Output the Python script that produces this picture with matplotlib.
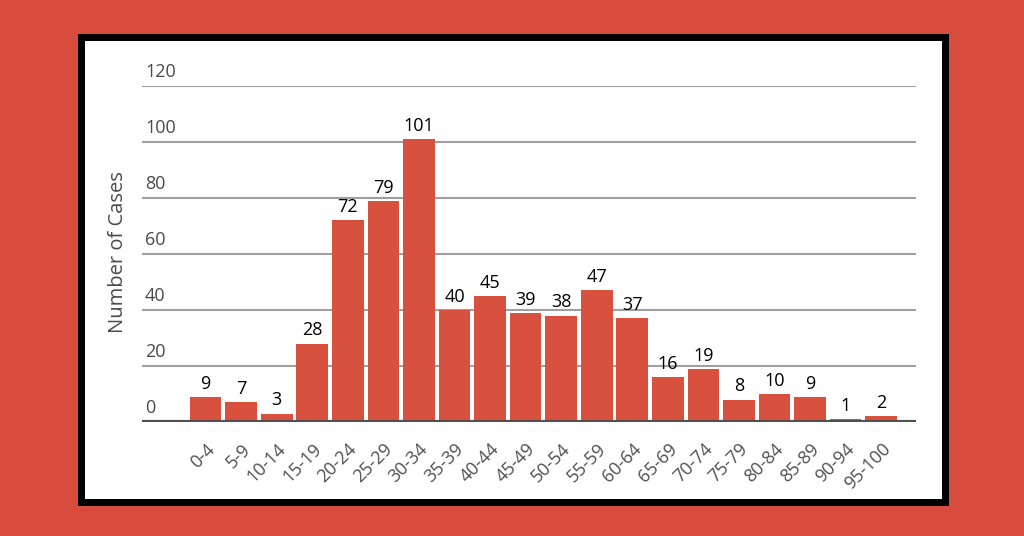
import matplotlib
matplotlib.use("Agg")
import matplotlib.pyplot as plt
from matplotlib.patches import Rectangle
import matplotlib.transforms as mtransforms

categories = ["0-4", "5-9", "10-14", "15-19", "20-24", "25-29", "30-34", "35-39",
              "40-44", "45-49", "50-54", "55-59", "60-64", "65-69", "70-74", "75-79",
              "80-84", "85-89", "90-94", "95-100"]
cases = [9, 7, 3, 28, 72, 79, 101, 40, 45, 39, 38, 47, 37, 16, 19, 8, 10, 9, 1, 2]
yticks = [0, 20, 40, 60, 80, 100, 120]

plt.rcParams['font.family'] = ['Open Sans', 'DejaVu Sans']

W, H = 1024, 536
fig = plt.figure(figsize=(W / 100, H / 100), dpi=100)
fig.patch.set_facecolor('#D84C3D')

# black frame + white panel
fig.patches.append(Rectangle((78 / W, (H - 506) / H), (949 - 78) / W, (506 - 34) / H,
                             transform=fig.transFigure, facecolor='black', edgecolor='none', zorder=-2))
fig.patches.append(Rectangle((85 / W, (H - 499) / H), (942 - 85) / W, (499 - 41) / H,
                             transform=fig.transFigure, facecolor='white', edgecolor='none', zorder=-1))

ax = fig.add_axes([142 / W, (H - 422) / H, (916 - 142) / W, (422 - 86) / H])
ax.set_zorder(2)
ax.set_facecolor('none')

x = list(range(len(categories)))
bars = ax.bar(x, cases, width=0.89, color='#D8503E', zorder=2)
for xi, v in zip(x, cases):
    ax.annotate(str(v), (xi, v), xytext=(0, 3), textcoords='offset points',
                ha='center', va='bottom', fontsize=13, color='black')

ax.set_xlim(-1.79, 19.98)
ax.set_ylim(0, 120)

for s in ax.spines.values():
    s.set_visible(False)

for t in yticks[1:]:
    ax.axhline(t, color='#a0a0a0', lw=1.5, zorder=1)
ax.axhline(0, color='#505050', lw=3, zorder=3)

ax.set_yticks([])
off = mtransforms.ScaledTranslation(3 / 100, 5 / 100, fig.dpi_scale_trans)
for t in yticks:
    ax.text(0, t, str(t), transform=ax.get_yaxis_transform() + off,
            ha='left', va='bottom', fontsize=13, color='#4a4a4a')

ax.set_xticks(x)
ax.set_xticklabels(categories, rotation=45, ha='right', rotation_mode='anchor',
                   fontsize=13, color='#505050')
ax.tick_params(axis='x', length=0, pad=13)

fig.text(118 / W, (H - 252) / H, "Number of Cases", rotation=90, ha='center', va='center',
         fontsize=14.5, color='#4a4a4a')

fig.savefig('out.png', dpi=100, facecolor=fig.get_facecolor())
